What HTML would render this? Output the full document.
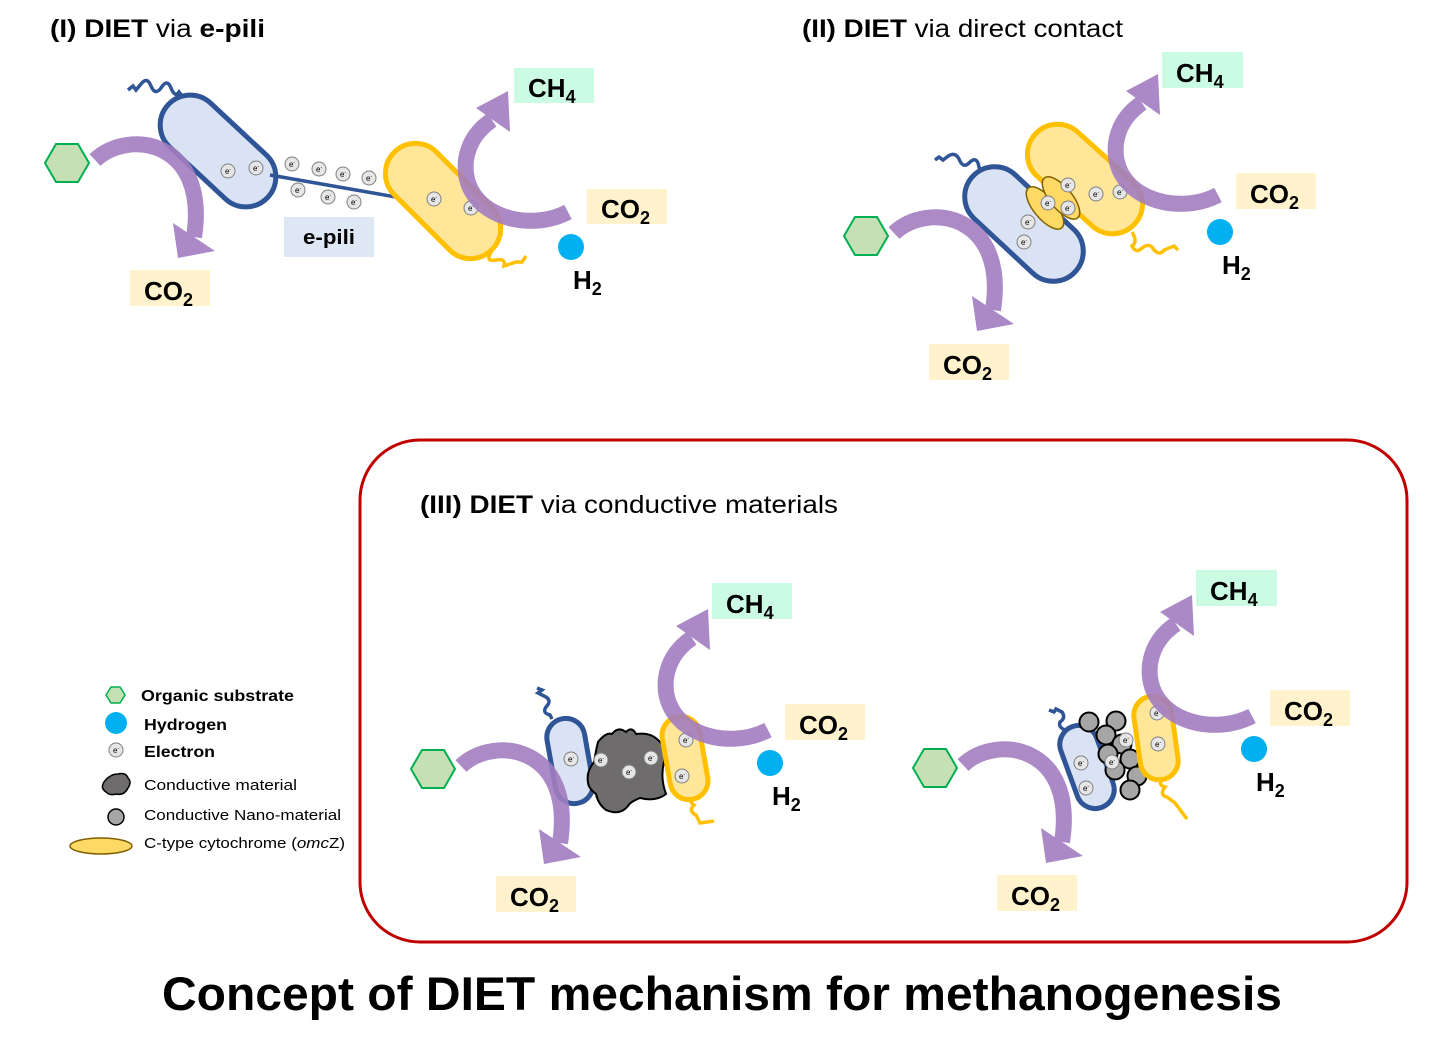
<!DOCTYPE html>
<html><head><meta charset="utf-8">
<style>
html,body{margin:0;padding:0;background:#fff;}
svg{display:block;font-family:"Liberation Sans",Arial,sans-serif;}
.lbl{font-weight:bold;font-size:26px;fill:#000;}
.sub{font-size:18px;}
</style></head>
<body>
<svg width="1436" height="1059" viewBox="0 0 1436 1059" xmlns="http://www.w3.org/2000/svg">
<defs>
  <g id="hex"><polygon points="-22,0 -11,-19 11,-19 22,0 11,19 -11,19" fill="#c5e0b4" stroke="#00b050" stroke-width="2"/></g>
  <g id="subarc" opacity="0.9">
    <path d="M28,-3 C62,-35 142,-22 127,74" fill="none" stroke="#a27dc0" stroke-width="16"/>
    <polygon points="106,60 148,88 111,95" fill="#a27dc0"/>
  </g>
  <g id="charc" opacity="0.9">
    <path d="M0,0 C-42,22 -108,2 -102,-52 C-99,-72 -88,-84 -76,-92" fill="none" stroke="#a27dc0" stroke-width="16"/>
    <polygon points="-92,-104 -58,-80 -60,-121" fill="#a27dc0"/>
  </g>
  <g id="el"><circle r="7" fill="#e6e6e6" stroke="#7f7f7f" stroke-width="1"/><text x="-3" y="3" font-size="8" fill="#000">e<tspan font-size="5" dy="-3">-</tspan></text></g>
  <g id="np"><circle r="9.5" fill="#a6a6a6" stroke="#000" stroke-width="2"/></g>
</defs>

<!-- Panel I -->
<text x="50" y="37" font-size="25" textLength="215" lengthAdjust="spacingAndGlyphs"><tspan font-weight="bold">(I) DIET</tspan> via <tspan font-weight="bold">e-pili</tspan></text>
<path d="M128,90 l5,-4 l3,4 l5,-6 q6,-8 10,2 q4,10 10,2 q6,-10 10,0 q4,10 8,4 l6,8" fill="none" stroke="#2f5597" stroke-width="3.5"/>
<rect x="150" y="121" width="136" height="60" rx="30" transform="rotate(43 218 151)" fill="#dae3f3" stroke="#2f5597" stroke-width="5"/>
<use href="#hex" x="67" y="163"/>
<use href="#subarc" x="67" y="163"/>
<rect x="130" y="270" width="80" height="36" fill="#fff2cc"/>
<text x="144" y="300" class="lbl">CO<tspan class="sub" dy="6">2</tspan></text>
<line x1="270" y1="175" x2="396" y2="197" stroke="#2f5597" stroke-width="3.5"/>
<path d="M488,238 q6,10 2,16 q-4,8 6,6 q10,-2 8,6 l12,-4 l6,0 l4,-6" fill="none" stroke="#ffc000" stroke-width="3.5"/>
<rect x="374" y="171" width="138" height="60" rx="30" transform="rotate(45 443 201)" fill="#ffe699" stroke="#ffc000" stroke-width="5"/>
<use href="#el" x="228" y="171"/><use href="#el" x="256" y="168"/>
<use href="#el" x="292" y="164"/><use href="#el" x="319" y="169"/><use href="#el" x="343" y="174"/><use href="#el" x="369" y="178"/>
<use href="#el" x="298" y="190"/><use href="#el" x="328" y="197"/><use href="#el" x="354" y="202"/>
<use href="#el" x="434" y="199"/><use href="#el" x="471" y="208"/>
<rect x="284" y="217" width="90" height="40" fill="#dee8f5"/>
<text x="303" y="244" font-size="20" font-weight="bold" textLength="52" lengthAdjust="spacingAndGlyphs">e-pili</text>
<use href="#charc" x="568" y="212"/>
<rect x="514" y="68" width="80" height="35" fill="#ccfbe3"/>
<text x="528" y="97" class="lbl">CH<tspan class="sub" dy="6">4</tspan></text>
<rect x="587" y="189" width="80" height="35" fill="#fff2cc"/>
<text x="601" y="218" class="lbl">CO<tspan class="sub" dy="6">2</tspan></text>
<circle cx="571" cy="247" r="13" fill="#00b0f0"/>
<text x="573" y="289" class="lbl">H<tspan class="sub" dy="6">2</tspan></text>

<!-- Panel II -->
<text x="802" y="37" font-size="25" textLength="321" lengthAdjust="spacingAndGlyphs"><tspan font-weight="bold">(II) DIET</tspan> via direct contact</text>
<path d="M935,160 l4,-3 l4,3 l4,-3 q8,-6 12,2 q4,10 10,4 q8,-8 10,4 q2,10 6,14" fill="none" stroke="#2f5597" stroke-width="3.5"/>
<path d="M1132,232 q6,10 0,14 q4,8 10,2 q8,-6 12,2 q6,6 10,0 l10,-4 l4,4" fill="none" stroke="#ffc000" stroke-width="3.5"/>
<rect x="954" y="194" width="140" height="60" rx="30" transform="rotate(43 1024 224)" fill="#dae3f3" stroke="#2f5597" stroke-width="5"/>
<rect x="1018" y="149" width="134" height="60" rx="30" transform="rotate(42 1085 179)" fill="#ffe699" stroke="#ffc000" stroke-width="5"/>
<ellipse cx="1045" cy="208" rx="26" ry="11" transform="rotate(50 1045 208)" fill="#ffd966" stroke="#7f6000" stroke-width="1.5"/>
<ellipse cx="1061" cy="198" rx="26" ry="11" transform="rotate(50 1061 198)" fill="#ffd966" stroke="#7f6000" stroke-width="1.5"/>
<use href="#el" x="1068" y="185"/><use href="#el" x="1048" y="203"/><use href="#el" x="1068" y="208"/>
<use href="#el" x="1096" y="194"/><use href="#el" x="1120" y="192"/>
<use href="#el" x="1028" y="222"/><use href="#el" x="1024" y="242"/>
<use href="#hex" x="866" y="236"/>
<use href="#subarc" x="866" y="236"/>
<rect x="929" y="344" width="80" height="36" fill="#fff2cc"/>
<text x="943" y="374" class="lbl">CO<tspan class="sub" dy="6">2</tspan></text>
<use href="#charc" x="1218" y="195"/>
<rect x="1162" y="52" width="81" height="36" fill="#ccfbe3"/>
<text x="1176" y="82" class="lbl">CH<tspan class="sub" dy="6">4</tspan></text>
<rect x="1236" y="173" width="80" height="36" fill="#fff2cc"/>
<text x="1250" y="203" class="lbl">CO<tspan class="sub" dy="6">2</tspan></text>
<circle cx="1220" cy="232" r="13" fill="#00b0f0"/>
<text x="1222" y="274" class="lbl">H<tspan class="sub" dy="6">2</tspan></text>

<!-- Panel III frame -->
<rect x="360" y="440" width="1047" height="502" rx="60" fill="none" stroke="#c00000" stroke-width="3"/>
<text x="420" y="513" font-size="25" textLength="418" lengthAdjust="spacingAndGlyphs"><tspan font-weight="bold">(III) DIET</tspan> via conductive materials</text>

<!-- III left -->
<path d="M537,688 l5,2 l-4,3 l8,4 q6,4 0,10 q-4,6 4,8 l2,4" fill="none" stroke="#2f5597" stroke-width="3.5"/>
<path d="M692,795 q-4,6 2,10 q-6,6 2,10 l4,8 l14,-2" fill="none" stroke="#ffc000" stroke-width="3.5"/>
<rect x="551" y="718" width="38" height="86" rx="19" transform="rotate(-10 570 761)" fill="#dae3f3" stroke="#2f5597" stroke-width="5"/>
<path d="M598,742 q8,-10 14,-8 q6,-8 14,-2 q6,-6 10,2 q14,-2 22,6 q8,6 6,22 q-4,16 2,32 q-10,8 -26,4 q-10,4 -12,8 q-8,10 -22,4 q-8,-6 -10,-16 q-8,-6 -8,-12 q-2,-10 6,-20 q2,-12 4,-20z" fill="#6e6c6c" stroke="#000" stroke-width="2"/>
<rect x="666" y="716" width="38" height="84" rx="19" transform="rotate(-10 685 758)" fill="#ffe699" stroke="#ffc000" stroke-width="5"/>
<use href="#el" x="571" y="759"/><use href="#el" x="601" y="760"/><use href="#el" x="629" y="772"/><use href="#el" x="651" y="758"/>
<use href="#el" x="686" y="740"/><use href="#el" x="682" y="776"/>
<use href="#hex" x="433" y="769"/>
<use href="#subarc" x="433" y="769"/>
<rect x="496" y="876" width="80" height="36" fill="#fff2cc"/>
<text x="510" y="906" class="lbl">CO<tspan class="sub" dy="6">2</tspan></text>
<use href="#charc" x="768" y="730"/>
<rect x="712" y="583" width="80" height="36" fill="#ccfbe3"/>
<text x="726" y="613" class="lbl">CH<tspan class="sub" dy="6">4</tspan></text>
<rect x="785" y="704" width="80" height="36" fill="#fff2cc"/>
<text x="799" y="734" class="lbl">CO<tspan class="sub" dy="6">2</tspan></text>
<circle cx="770" cy="763" r="13" fill="#00b0f0"/>
<text x="772" y="805" class="lbl">H<tspan class="sub" dy="6">2</tspan></text>

<!-- III right -->
<path d="M1049,710 l5,2 l2,-3 l6,3 q4,6 -2,10 q-2,6 6,8 l2,8" fill="none" stroke="#2f5597" stroke-width="3.5"/>
<path d="M1163,777 q-6,8 2,10 q-6,8 2,10 l8,6 l12,16" fill="none" stroke="#ffc000" stroke-width="3.5"/>
<rect x="1068" y="724" width="38" height="86" rx="19" transform="rotate(-20 1087 767)" fill="#dae3f3" stroke="#2f5597" stroke-width="5"/>
<use href="#np" x="1089" y="722"/><use href="#np" x="1116" y="721"/><use href="#np" x="1106" y="735"/>
<use href="#np" x="1122" y="744"/><use href="#np" x="1108" y="754"/><use href="#np" x="1130" y="759"/>
<use href="#np" x="1115" y="770"/><use href="#np" x="1137" y="776"/><use href="#np" x="1130" y="790"/>
<rect x="1137" y="696" width="38" height="84" rx="19" transform="rotate(-8 1156 738)" fill="#ffe699" stroke="#ffc000" stroke-width="5"/>
<use href="#el" x="1081" y="763"/><use href="#el" x="1086" y="788"/>
<use href="#el" x="1126" y="740"/><use href="#el" x="1112" y="762"/>
<use href="#el" x="1157" y="713"/><use href="#el" x="1158" y="744"/>
<use href="#hex" x="935" y="768"/>
<use href="#subarc" x="935" y="768"/>
<rect x="997" y="875" width="80" height="36" fill="#fff2cc"/>
<text x="1011" y="905" class="lbl">CO<tspan class="sub" dy="6">2</tspan></text>
<use href="#charc" x="1252" y="716"/>
<rect x="1196" y="570" width="81" height="36" fill="#ccfbe3"/>
<text x="1210" y="600" class="lbl">CH<tspan class="sub" dy="6">4</tspan></text>
<rect x="1270" y="690" width="80" height="36" fill="#fff2cc"/>
<text x="1284" y="720" class="lbl">CO<tspan class="sub" dy="6">2</tspan></text>
<circle cx="1254" cy="749" r="13" fill="#00b0f0"/>
<text x="1256" y="791" class="lbl">H<tspan class="sub" dy="6">2</tspan></text>

<!-- Legend -->
<polygon points="106,695 111,687 120,687 125,695 120,703 111,703" fill="#c5e0b4" stroke="#00b050" stroke-width="1.5"/>
<text x="141" y="701" font-size="16" font-weight="bold" textLength="153" lengthAdjust="spacingAndGlyphs">Organic substrate</text>
<circle cx="116" cy="723" r="11" fill="#00b0f0"/>
<text x="144" y="730" font-size="16" font-weight="bold" textLength="83" lengthAdjust="spacingAndGlyphs">Hydrogen</text>
<use href="#el" x="116" y="750"/>
<text x="144" y="757" font-size="16" font-weight="bold" textLength="71" lengthAdjust="spacingAndGlyphs">Electron</text>
<path d="M104,782 q6,-8 14,-8 q8,-2 10,4 q4,4 0,10 q-4,8 -12,6 q-6,2 -10,-2 q-6,-4 -2,-10z" fill="#6e6c6c" stroke="#000" stroke-width="1.5"/>
<text x="144" y="790" font-size="15" textLength="153" lengthAdjust="spacingAndGlyphs">Conductive material</text>
<circle cx="116" cy="817" r="8" fill="#a6a6a6" stroke="#000" stroke-width="1.5"/>
<text x="144" y="820" font-size="15" textLength="197" lengthAdjust="spacingAndGlyphs">Conductive Nano-material</text>
<ellipse cx="101" cy="846" rx="31" ry="8" fill="#ffd966" stroke="#7f6000" stroke-width="1.5"/>
<text x="144" y="848" font-size="15" textLength="201" lengthAdjust="spacingAndGlyphs">C-type cytochrome (<tspan font-style="italic">omc</tspan>Z)</text>

<!-- Bottom title -->
<text x="162" y="1010" font-size="47" font-weight="bold" textLength="1120" lengthAdjust="spacingAndGlyphs">Concept of DIET mechanism for methanogenesis</text>
</svg>
</body></html>
